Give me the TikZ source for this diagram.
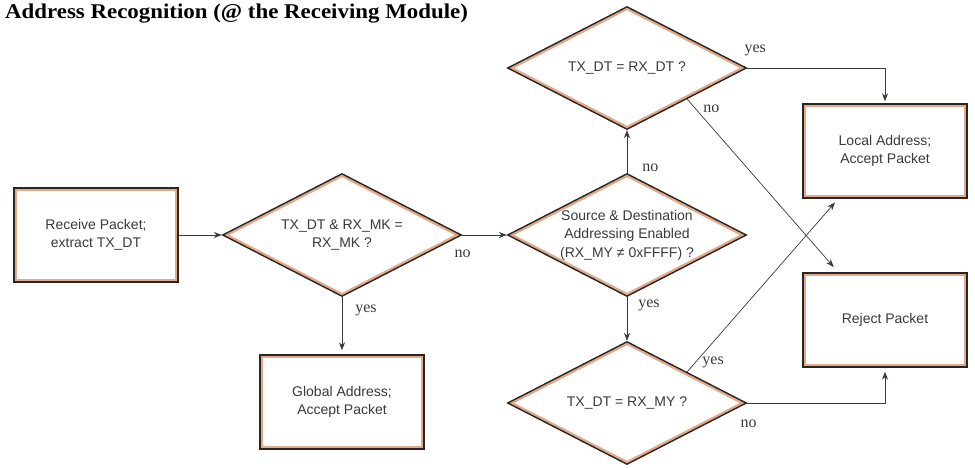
\documentclass[tikz,border=0pt]{standalone}
\usepackage{fontspec}
\setmainfont{Liberation Serif}
\setsansfont{Liberation Sans}
\newfontfamily\titlefont[FakeStretch=1.09]{Liberation Serif}
\usetikzlibrary{shapes.geometric,arrows.meta,calc}

\definecolor{edge}{HTML}{2B2522}
\definecolor{salmon}{HTML}{E2A98C}
\definecolor{ink}{HTML}{3A3A3A}

\tikzset{
	rimbox/.style={rectangle, draw=edge, line width=1.4pt, fill=white,
		minimum width=164pt, minimum height=94pt, align=center, text=ink,
		font=\sffamily\fontsize{14}{18}\selectfont,
		path picture={\draw[salmon, line width=6pt] (path picture bounding box.south west) rectangle (path picture bounding box.north east);}},
	decide/.style={diamond, draw=edge, line width=1.4pt, fill=white, aspect=1.92,
		minimum width=239pt, minimum height=123pt, inner sep=0pt, align=center, text=ink,
		font=\sffamily\fontsize{14}{18.5}\selectfont,
		path picture={\draw[salmon, line width=6pt] (path picture bounding box.north) -- (path picture bounding box.east) -- (path picture bounding box.south) -- (path picture bounding box.west) -- cycle;}},
	flow/.style={draw=ink, line width=0.7pt, -{Stealth[length=8pt,width=6pt]}},
	lab/.style={inner sep=0pt, anchor=base west, text=ink, font=\fontsize{16}{16}\selectfont},
}

\begin{document}
\begin{tikzpicture}[x=1pt, y=-1pt]
	\useasboundingbox (0,0) rectangle (975,467);
	\node[anchor=base west, inner sep=0pt, font=\titlefont\bfseries\fontsize{21}{22}\selectfont] (title) at (5,18) {Address Recognition (@ the Receiving Module)};

	\node[rimbox] (rcv) at (96,235) {Receive Packet;\\extract TX\_DT};
	\node[decide] (chkmk) at (342,235) {TX\_DT \& RX\_MK =\\RX\_MK ?};
	\node[rimbox] (global) at (342,402) {Global Address;\\Accept Packet};
	\node[decide] (srcdst) at (627,235) {Source \& Destination\\Addressing Enabled\\(RX\_MY ≠ 0xFFFF) ?};
	\node[decide] (dtchk) at (627,68) {TX\_DT = RX\_DT ?};
	\node[decide] (mychk) at (627,403) {TX\_DT = RX\_MY ?};
	\node[rimbox] (local) at (885,151) {Local Address;\\Accept Packet};
	\node[rimbox] (reject) at (885,320) {Reject Packet};

	% diagonal ends
	\coordinate (dtout) at ($(dtchk.south)!0.5!(dtchk.east)$);
	\coordinate (myout) at ($(mychk.north)!0.5!(mychk.east)$);
	\coordinate (rjin) at ($(reject.north west)+(36,0)$);
	\coordinate (lcin) at ($(local.south west)+(36,0)$);

	\draw[flow] (rcv) -- (chkmk);
	\draw[flow] (chkmk) -- node[lab, pos=0, xshift=-8pt, yshift=-22pt] {no} (srcdst);
	\draw[flow, shorten >=4pt] (chkmk) -- node[lab, pos=0, xshift=13pt, yshift=-15pt] {yes} (global);
	\draw[flow] (srcdst) -- node[lab, pos=0, xshift=15pt, yshift=1pt] {no} (dtchk);
	\draw[flow] (srcdst) -- node[lab, pos=0, xshift=11pt, yshift=-10pt] {yes} (mychk);
	\draw[flow, shorten >=2pt] (dtchk.east) -| node[lab, pos=0, xshift=-3pt, yshift=16pt] {yes} (local.north);
	\draw[flow, shorten >=7pt] (dtout) -- node[lab, pos=0, xshift=16pt, yshift=-13pt] {no} (rjin);
	\draw[flow, shorten >=5pt] (myout) -- node[lab, pos=0, xshift=15pt, yshift=7pt] {yes} (lcin);
	\draw[flow, shorten >=4pt] (mychk.east) -| node[lab, pos=0, xshift=-7pt, yshift=-24pt] {no} (reject.south);
\end{tikzpicture}
\end{document}
